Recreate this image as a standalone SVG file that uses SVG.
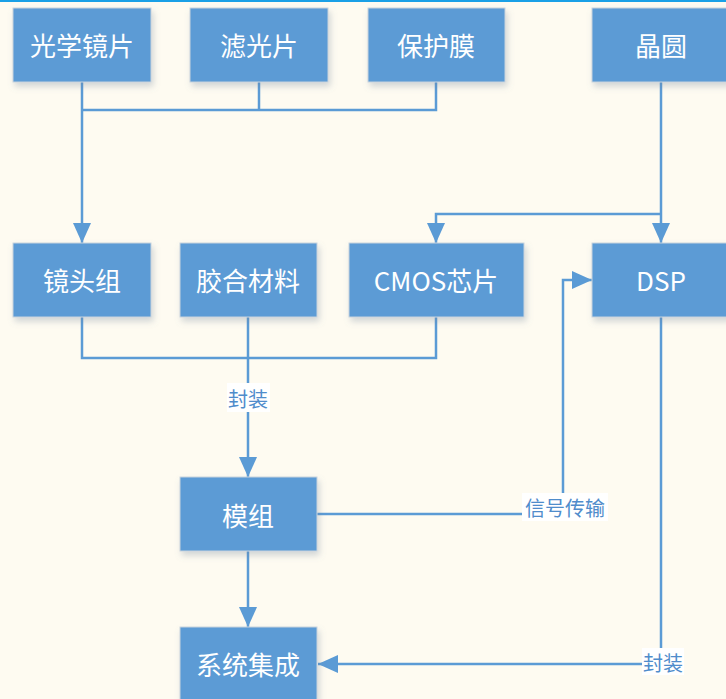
<svg xmlns="http://www.w3.org/2000/svg" width="726" height="699" viewBox="0 0 726 699">
<style>
.box{fill:#5B9BD5;stroke:#c9d3dd;stroke-width:1;filter:url(#sh)}
.t{font-family:"Noto Sans CJK SC","Noto Sans",sans-serif;font-size:26px;fill:#ffffff;text-anchor:middle;dominant-baseline:central}
.ln{fill:none;stroke:#5B9BD5;stroke-width:2.5}
.lb{font-family:"Noto Sans CJK SC","Noto Sans",sans-serif;font-size:20px;fill:#4f8ccb;text-anchor:middle;dominant-baseline:central}
.lbg{fill:#ffffff}
</style>
<defs>
<filter id="sh" x="-20%" y="-20%" width="150%" height="160%">
<feDropShadow dx="2" dy="4" stdDeviation="3" flood-color="#6b7f99" flood-opacity="0.3"/>
</filter>
<marker id="ar" viewBox="0 0 20 18" refX="20" refY="9" markerWidth="20" markerHeight="18" markerUnits="userSpaceOnUse" orient="auto">
<path d="M0,0 L20,9 L0,18 Z" fill="#5B9BD5"/>
</marker>
</defs>
<rect width="726" height="699" fill="#FEFBF1"/>
<rect x="0" y="0" width="726" height="2" fill="#1aa0e6"/>
<g id="connectors">
<path class="ln" d="M82,82 V110 M259,82 V110 M436,82 V110 H82"/>
<path class="ln" d="M82,110 V243" marker-end="url(#ar)"/>
<path class="ln" d="M661,82 V243" marker-end="url(#ar)"/>
<path class="ln" d="M661,214 H436 V243" marker-end="url(#ar)"/>
<path class="ln" d="M82,317 V358 H436 V317"/>
<path class="ln" d="M248,317 V477" marker-end="url(#ar)"/>
<path class="ln" d="M317,514 H563 V280 H592" marker-end="url(#ar)"/>
<path class="ln" d="M248,551 V627" marker-end="url(#ar)"/>
<path class="ln" d="M661,317 V664 H318" marker-end="url(#ar)"/>
<rect class="lbg" x="227" y="383" width="43" height="29"/>
<text class="lb" x="248" y="398">封装</text>
<rect class="lbg" x="522" y="493" width="86" height="28"/>
<text class="lb" x="565" y="507">信号传输</text>
<rect class="lbg" x="642" y="648" width="42" height="27"/>
<text class="lb" x="663" y="662">封装</text>
</g>
<g id="n1"><rect class="box" x="13" y="8" width="138" height="74"/><text class="t" x="82" y="44">光学镜片</text></g>
<g id="n2"><rect class="box" x="190" y="8" width="138" height="74"/><text class="t" x="259" y="44">滤光片</text></g>
<g id="n3"><rect class="box" x="368" y="8" width="137" height="74"/><text class="t" x="436" y="44">保护膜</text></g>
<g id="n4"><rect class="box" x="592" y="8" width="138" height="74"/><text class="t" x="661" y="44">晶圆</text></g>
<g id="n5"><rect class="box" x="13" y="243" width="138" height="74"/><text class="t" x="82" y="279">镜头组</text></g>
<g id="n6"><rect class="box" x="180" y="243" width="137" height="74"/><text class="t" x="248" y="279">胶合材料</text></g>
<g id="n7"><rect class="box" x="349" y="243" width="175" height="74"/><text class="t" x="436" y="279">CMOS芯片</text></g>
<g id="n8"><rect class="box" x="592" y="243" width="138" height="74"/><text class="t" x="661" y="279">DSP</text></g>
<g id="n9"><rect class="box" x="180" y="477" width="137" height="74"/><text class="t" x="248" y="514">模组</text></g>
<g id="n10"><rect class="box" x="180" y="627" width="137" height="74"/><text class="t" x="248" y="663">系统集成</text></g>
</svg>
